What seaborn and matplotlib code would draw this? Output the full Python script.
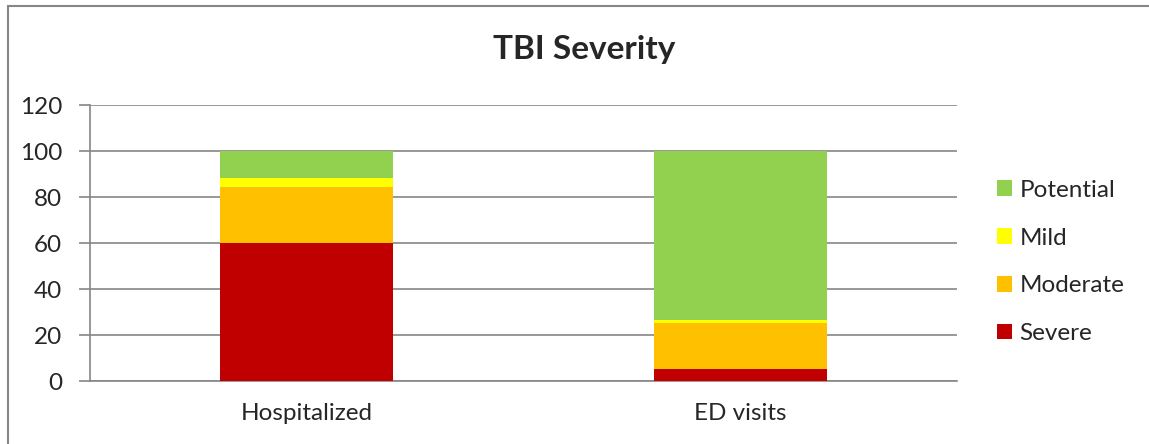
import numpy as np
import pandas as pd
import matplotlib
matplotlib.use("Agg")
import matplotlib.pyplot as plt
from matplotlib.patches import Rectangle
import seaborn as sns

# Datos (porcentajes por categoria)
categorias = ["Hospitalized", "ED visits"]
severidades = ["Severe", "Moderate", "Mild", "Potential"]
severe = [60.0, 5.4]
moderate = [24.5, 19.8]
mild = [3.9, 1.3]
potential = [11.6, 73.5]
colores = {"Severe": "#C00000", "Moderate": "#FFC000",
           "Mild": "#FFFF00", "Potential": "#92D050"}
y_ticks = [0, 20, 40, 60, 80, 100, 120]

# Estilo
sns.set_style("white")
plt.rcParams["font.family"] = ["Lato", "DejaVu Sans"]

fig = plt.figure(figsize=(11.49, 4.44), dpi=100)
ax = fig.add_axes([90 / 1149, 63 / 444, 867 / 1149, 276 / 444])

# Acumulados para apilar (se dibuja de mayor a menor)
valores = np.array([severe, moderate, mild, potential])
acumulado = np.cumsum(valores, axis=0)
df = pd.DataFrame({"categoria": np.tile(categorias, len(severidades)),
                   "severidad": np.repeat(severidades, len(categorias)),
                   "tope": acumulado.ravel()})

for sev in reversed(severidades):
    sub = df[df["severidad"] == sev]
    sns.barplot(data=sub, x="categoria", y="tope", order=categorias,
                color=colores[sev], width=0.4, linewidth=0, saturation=1,
                label=sev, ax=ax, zorder=3)

handles, labels = ax.get_legend_handles_labels()
if ax.get_legend() is not None:
    ax.get_legend().remove()

# Ejes y malla
gris = "#868686"
ax.set_xlim(-0.5, 1.5)
ax.set_ylim(0, 120)
ax.set_yticks(y_ticks)
ax.yaxis.grid(True, color=gris, linewidth=1.2, zorder=0)
ax.set_axisbelow(True)
ax.set_xlabel("")
ax.set_ylabel("")
for lado in ["top", "right"]:
    ax.spines[lado].set_visible(False)
for lado in ["left", "bottom"]:
    ax.spines[lado].set_color(gris)
    ax.spines[lado].set_linewidth(1.2)
ax.set_xticks([-0.5, 0.5, 1.5], minor=True)
ax.tick_params(axis="x", which="major", length=0, labelsize=17.5, pad=16)
ax.tick_params(axis="x", which="minor", length=8, width=1.2, color=gris,
               direction="out")
ax.tick_params(axis="y", length=8, width=1.2, color=gris, direction="out",
               labelsize=17.5, pad=12, left=True)

# Titulo
fig.text(584 / 1149, 1 - 50 / 444, "TBI Severity", ha="center", va="center",
         fontsize=24, fontweight="bold")

# Leyenda
fig.legend(handles, labels, loc="center left",
           bbox_to_anchor=(997 / 1149, 1 - 262 / 444), frameon=False,
           fontsize=17.5, handlelength=0.62, handleheight=0.62,
           handletextpad=0.3, labelspacing=1.1, borderaxespad=0,
           borderpad=0)

# Marco exterior
fig.patches.append(Rectangle((8 / 1149, -0.1), 1.1, 1.1 - 6 / 444,
                             transform=fig.transFigure, fill=False,
                             edgecolor=gris, linewidth=1.5))

fig.savefig("out.png", dpi=100)
plt.close()
